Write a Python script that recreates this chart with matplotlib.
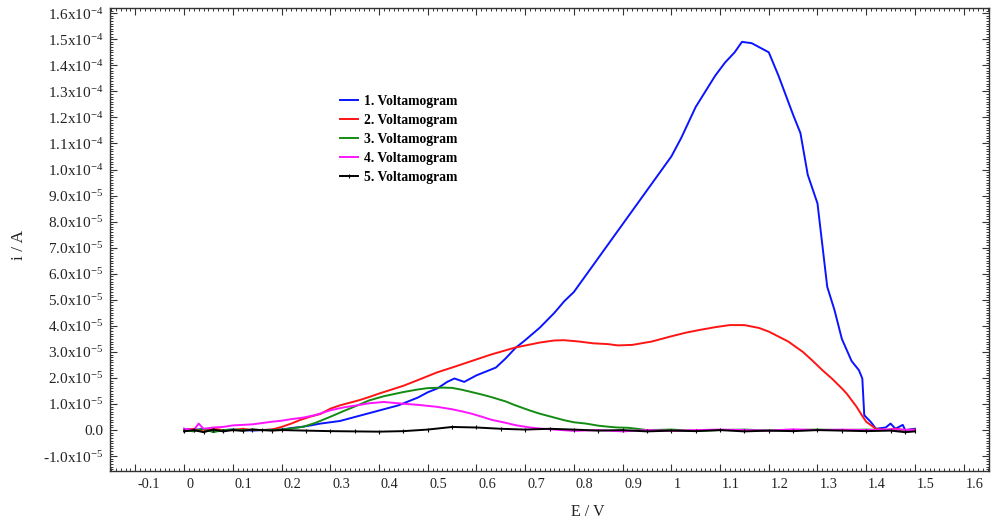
import matplotlib
matplotlib.use("Agg")
import matplotlib.pyplot as plt
from matplotlib.ticker import MultipleLocator, FixedLocator, FuncFormatter
from matplotlib.transforms import offset_copy
import numpy as np

plt.rcParams["font.family"] = ["Liberation Serif", "DejaVu Serif"]
plt.rcParams["mathtext.fontset"] = "custom"
plt.rcParams["mathtext.rm"] = "Liberation Serif"
plt.rcParams["mathtext.it"] = "Liberation Serif:italic"
plt.rcParams["mathtext.bf"] = "Liberation Serif:bold"

# Current values are given in units of 1e-5 A, potential in V
labels = ["1. Voltamogram", "2. Voltamogram", "3. Voltamogram",
          "4. Voltamogram", "5. Voltamogram"]
colors = ["#0a14ff", "#ff1414", "#148c14", "#ff14ff", "#000000"]

volt1 = [(0.00, 0.05), (0.02, 0.0), (0.04, 0.05), (0.06, -0.05), (0.08, 0.0),
         (0.10, 0.02), (0.12, 0.0), (0.14, -0.02), (0.16, 0.0), (0.18, 0.02),
         (0.20, 0.02), (0.22, 0.08), (0.24, 0.12), (0.26, 0.18), (0.28, 0.25),
         (0.30, 0.30), (0.32, 0.35), (0.34, 0.45), (0.36, 0.55), (0.38, 0.65),
         (0.40, 0.75), (0.42, 0.85), (0.44, 0.95), (0.46, 1.10), (0.48, 1.25),
         (0.50, 1.45), (0.52, 1.60), (0.54, 1.85), (0.555, 1.98), (0.575, 1.85),
         (0.60, 2.10), (0.62, 2.25), (0.64, 2.40), (0.66, 2.75), (0.68, 3.15),
         (0.70, 3.45), (0.73, 3.93), (0.76, 4.50), (0.78, 4.94), (0.80, 5.30),
         (0.85, 6.60), (0.90, 7.90), (0.95, 9.20), (1.00, 10.5), (1.02, 11.2),
         (1.05, 12.4), (1.07, 13.0), (1.09, 13.6), (1.11, 14.1), (1.13, 14.5),
         (1.145, 14.9), (1.165, 14.85), (1.18, 14.7), (1.20, 14.5), (1.22, 13.6),
         (1.25, 12.1), (1.265, 11.4), (1.28, 9.8), (1.30, 8.7), (1.32, 5.5),
         (1.335, 4.6), (1.35, 3.5), (1.37, 2.65), (1.385, 2.3), (1.392, 1.98),
         (1.396, 0.57), (1.41, 0.30), (1.42, 0.05), (1.44, 0.10), (1.45, 0.25),
         (1.46, 0.05), (1.475, 0.20), (1.48, 0.0), (1.50, 0.05)]

volt2 = [(0.00, 0.0), (0.02, 0.05), (0.04, -0.05), (0.06, 0.05), (0.08, 0.0),
         (0.10, 0.0), (0.12, 0.05), (0.14, 0.0), (0.16, 0.0), (0.18, 0.02),
         (0.20, 0.12), (0.22, 0.25), (0.24, 0.40), (0.26, 0.52), (0.28, 0.62),
         (0.30, 0.82), (0.32, 0.95), (0.34, 1.05), (0.36, 1.15), (0.38, 1.27),
         (0.40, 1.40), (0.42, 1.52), (0.45, 1.70), (0.48, 1.92), (0.52, 2.22),
         (0.55, 2.40), (0.59, 2.65), (0.63, 2.90), (0.68, 3.17), (0.73, 3.36),
         (0.76, 3.44), (0.78, 3.45), (0.81, 3.40), (0.84, 3.33), (0.87, 3.30),
         (0.89, 3.25), (0.92, 3.27), (0.96, 3.40), (1.00, 3.60), (1.03, 3.74),
         (1.06, 3.85), (1.09, 3.95), (1.12, 4.03), (1.15, 4.03), (1.18, 3.92),
         (1.20, 3.78), (1.24, 3.40), (1.27, 3.00), (1.29, 2.66), (1.31, 2.30),
         (1.33, 1.97), (1.35, 1.60), (1.36, 1.40), (1.38, 0.90), (1.39, 0.60),
         (1.40, 0.32), (1.42, 0.05), (1.44, 0.0), (1.46, 0.05), (1.48, 0.0),
         (1.50, 0.02)]

volt3 = [(0.00, 0.0), (0.02, -0.05), (0.04, 0.05), (0.06, -0.08), (0.08, 0.0),
         (0.10, 0.02), (0.12, 0.0), (0.14, 0.02), (0.16, 0.0), (0.18, 0.0),
         (0.20, 0.02), (0.22, 0.06), (0.245, 0.13), (0.27, 0.28), (0.30, 0.51),
         (0.33, 0.75), (0.36, 0.98), (0.38, 1.14), (0.41, 1.30), (0.45, 1.46),
         (0.48, 1.56), (0.50, 1.61), (0.53, 1.63), (0.55, 1.62), (0.57, 1.55),
         (0.59, 1.46), (0.61, 1.37), (0.63, 1.27), (0.66, 1.10), (0.68, 0.95),
         (0.71, 0.75), (0.73, 0.63), (0.76, 0.48), (0.78, 0.38), (0.80, 0.30),
         (0.825, 0.25), (0.85, 0.17), (0.87, 0.13), (0.89, 0.10), (0.91, 0.09),
         (0.93, 0.05), (0.95, 0.0), (1.00, 0.02), (1.05, -0.03), (1.10, 0.0),
         (1.15, 0.02), (1.20, -0.02), (1.25, 0.0), (1.30, 0.02), (1.35, 0.0),
         (1.40, 0.02), (1.45, 0.0), (1.50, 0.0)]

volt4 = [(0.00, 0.05), (0.02, 0.0), (0.03, 0.25), (0.04, 0.05), (0.06, 0.10),
         (0.08, 0.12), (0.10, 0.18), (0.12, 0.20), (0.14, 0.22), (0.16, 0.27),
         (0.18, 0.32), (0.20, 0.36), (0.22, 0.42), (0.245, 0.48), (0.27, 0.58),
         (0.30, 0.76), (0.33, 0.88), (0.355, 0.95), (0.38, 1.03), (0.41, 1.08),
         (0.45, 1.01), (0.48, 0.97), (0.52, 0.89), (0.55, 0.80), (0.57, 0.72),
         (0.59, 0.63), (0.61, 0.52), (0.63, 0.40), (0.66, 0.28), (0.68, 0.19),
         (0.71, 0.10), (0.73, 0.06), (0.76, 0.02), (0.80, -0.03), (0.85, 0.0),
         (0.90, -0.05), (0.95, 0.0), (1.00, -0.03), (1.05, 0.0), (1.10, 0.02),
         (1.15, 0.0), (1.20, -0.02), (1.25, 0.03), (1.30, 0.0), (1.35, 0.02),
         (1.40, 0.0), (1.45, 0.03), (1.50, 0.0)]

volt5 = [(0.00, -0.05), (0.02, 0.0), (0.04, -0.08), (0.06, 0.02), (0.08, -0.05),
         (0.10, 0.0), (0.12, -0.03), (0.14, 0.02), (0.16, 0.0), (0.18, -0.02),
         (0.20, 0.0), (0.25, -0.02), (0.30, -0.04), (0.35, -0.05), (0.40, -0.06),
         (0.45, -0.04), (0.50, 0.02), (0.55, 0.12), (0.60, 0.10), (0.65, 0.05),
         (0.70, 0.02), (0.75, 0.05), (0.80, 0.02), (0.85, -0.02), (0.90, 0.0),
         (0.95, -0.05), (1.00, -0.02), (1.05, -0.04), (1.10, 0.0), (1.15, -0.05),
         (1.20, -0.02), (1.25, -0.04), (1.30, 0.0), (1.35, -0.02), (1.40, -0.04),
         (1.45, -0.02), (1.48, -0.08), (1.50, -0.05)]

series = [volt1, volt2, volt3, volt4, volt5]
unit = 1e-5

x_ticks = [-0.1, 0, 0.1, 0.2, 0.3, 0.4, 0.5, 0.6, 0.7, 0.8, 0.9, 1, 1.1, 1.2,
           1.3, 1.4, 1.5, 1.6]
x_tick_labels = ["-0.1", "0", "0.1", "0.2", "0.3", "0.4", "0.5", "0.6", "0.7",
                 "0.8", "0.9", "1", "1.1", "1.2", "1.3", "1.4", "1.5", "1.6"]

fig = plt.figure(figsize=(9.93, 5.22), dpi=100)
ax = fig.add_axes([110 / 993, 1 - 471 / 522, 879 / 993, 463 / 522])

for data, lab, col in zip(series, labels, colors):
    e = np.array([p[0] for p in data])
    i = np.array([p[1] for p in data]) * unit
    if col == "#000000":
        ax.plot(e, i, color=col, lw=1.4, label=lab, marker="|", ms=3, mew=0.8)
    else:
        ax.plot(e, i, color=col, lw=1.4, label=lab)

ax.set_xlim(-0.152, 1.652)
ax.set_ylim(-1.57e-5, 1.62e-4)

ax.xaxis.set_major_locator(FixedLocator(x_ticks))
ax.set_xticklabels(x_tick_labels)
ax.xaxis.set_minor_locator(MultipleLocator(0.01))
ax.yaxis.set_major_locator(MultipleLocator(1e-5))
ax.yaxis.set_minor_locator(MultipleLocator(1e-6))


def sci_label(v, pos):
    if abs(v) < 1e-12:
        return "0.0"
    exp = int(np.floor(np.log10(abs(v)) + 1e-9))
    mant = v / 10 ** exp
    return f"{mant:.1f}x10$^{{{exp}}}$"


ax.yaxis.set_major_formatter(FuncFormatter(sci_label))

ax.tick_params(which="both", direction="in", top=True, right=True,
               colors="#333333", labelcolor="#222222")
ax.tick_params(axis="x", labelsize=10.3, pad=5)
ax.tick_params(axis="y", labelsize=11, pad=5)
ax.tick_params(which="major", length=5, width=0.8)
ax.tick_params(which="minor", length=2.5, width=0.7)
for sp in ax.spines.values():
    sp.set_color("#333333")
    sp.set_linewidth(1.0)

fig.canvas.draw()
for lbl in ax.get_xticklabels():
    lbl.set_horizontalalignment("left")
    lbl.set_transform(offset_copy(lbl.get_transform(), fig=fig, x=2, y=0,
                                  units="dots"))

ax.set_xlabel("E / V", fontsize=11.5, color="#222222")
ax.set_ylabel("i / A", fontsize=12.5, color="#222222")
ax.xaxis.set_label_coords(0.544, -0.072)
ax.yaxis.set_label_coords(-0.094, 0.488)

leg = ax.legend(loc="upper left", bbox_to_anchor=(340 / 993, 1 - 95 / 522),
                bbox_transform=fig.transFigure, frameon=False, borderpad=0,
                borderaxespad=0, handlelength=1.3, handletextpad=0.5,
                labelspacing=0.44, prop={"weight": "bold", "size": 9.8})

fig.savefig("out.png", dpi=100)
